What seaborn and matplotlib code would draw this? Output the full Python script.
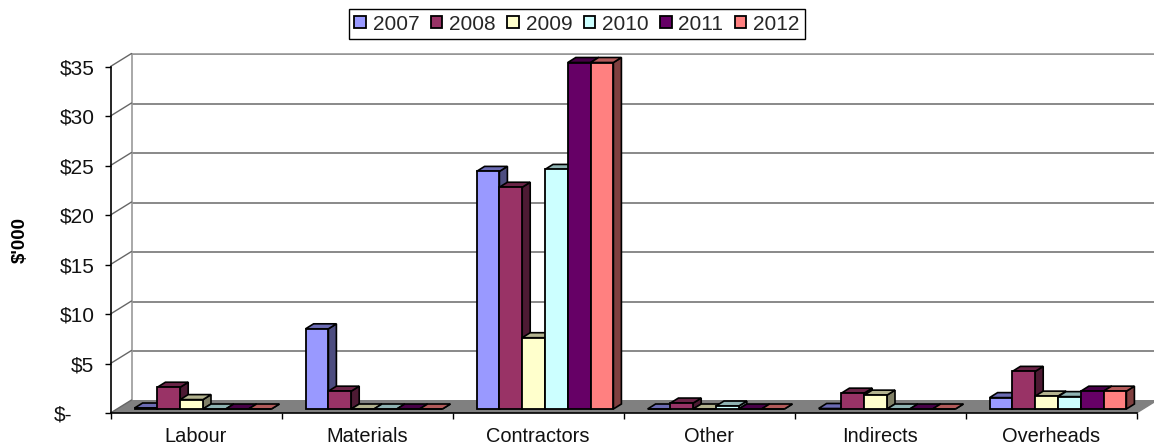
import matplotlib
matplotlib.use("Agg")
import matplotlib.pyplot as plt
from matplotlib.colors import to_rgb
from matplotlib.patches import Polygon
from matplotlib.ticker import FixedLocator, NullFormatter
from matplotlib.transforms import ScaledTranslation
import pandas as pd
import seaborn as sns

categories = ["Labour", "Materials", "Contractors", "Other", "Indirects", "Overheads"]
years = ["2007", "2008", "2009", "2010", "2011", "2012"]
spend_2007 = [0.1, 8.1, 24.0, 0.0, 0.05, 1.15]
spend_2008 = [2.2, 1.8, 22.4, 0.6, 1.6, 3.8]
spend_2009 = [0.95, 0.0, 7.2, 0.0, 1.4, 1.3]
spend_2010 = [0.0, 0.0, 24.2, 0.3, 0.0, 1.25]
spend_2011 = [0.0, 0.0, 35.0, 0.0, 0.0, 1.8]
spend_2012 = [0.0, 0.0, 35.0, 0.0, 0.0, 1.8]
year_colors = ["#9999FF", "#993366", "#FFFFCC", "#CCFFFF", "#660066", "#FF8080"]
value_ticks = [0, 5, 10, 15, 20, 25, 30, 35]
value_labels = ["$-", "$5", "$10", "$15", "$20", "$25", "$30", "$35"]

spend = [spend_2007, spend_2008, spend_2009, spend_2010, spend_2011, spend_2012]
frame = pd.DataFrame(
    [
        {"category": cat, "year": year, "spend": values[i]}
        for year, values in zip(years, spend)
        for i, cat in enumerate(categories)
    ]
)

sns.set_style("white")
plt.rcParams["font.family"] = ["Liberation Sans", "DejaVu Sans"]

W, H = 1154, 444
AX_W, AX_H = 1026.0, 346.5
fig = plt.figure(figsize=(W / 100, H / 100), dpi=100, facecolor="white")


def layer(left, base):
    """Axes of the shared plot size whose origin sits at a pixel position."""
    ax = fig.add_axes([left / W, (H - base) / H, AX_W / W, AX_H / H])
    ax.set_xlim(-0.5, 5.5)
    ax.set_ylim(0, 35)
    ax.patch.set_alpha(0)
    return ax


# Three layers give the oblique look: back wall, front axis, bars in between.
ax_back = layer(131.5, 400.5)
ax_front = layer(110.5, 413.0)
ax_bars = layer(117.5, 409.0)
ax_back.set_zorder(0)
ax_front.set_zorder(1)
ax_bars.set_zorder(2)

# Back wall
ax_back.set_yticks(value_ticks)
ax_back.set_xticks([])
ax_back.set_yticklabels([])
ax_back.grid(axis="y", color="#808080", linewidth=1.3)
ax_back.tick_params(left=False)
for side in ("right", "bottom"):
    ax_back.spines[side].set_visible(False)
for side in ("left", "top"):
    ax_back.spines[side].set_color("#999999")
    ax_back.spines[side].set_linewidth(1.2)

# Front axis
unit_x = 6 / AX_W
unit_y = 35 / AX_H
wall_dx, wall_dy = 21 * unit_x, 13 * unit_y
ax_front.set_yticks(value_ticks)
ax_front.set_yticklabels(value_labels, fontsize=15, color="#111111")
ax_front.set_xticks(range(len(categories)))
ax_front.set_xticklabels(categories, fontsize=14.4, color="#111111")
ax_front.xaxis.set_minor_locator(FixedLocator([i - 0.5 for i in range(len(categories) + 1)]))
ax_front.xaxis.set_minor_formatter(NullFormatter())
ax_front.tick_params(axis="x", which="major", length=0, pad=10)
ax_front.tick_params(axis="x", which="minor", length=4.5, width=1, color="black", bottom=True)
ax_front.tick_params(axis="y", length=4.5, width=1, color="black", pad=7, left=True)
for side in ("right", "top"):
    ax_front.spines[side].set_visible(False)
for side in ("left", "bottom"):
    ax_front.spines[side].set_color("black")
    ax_front.spines[side].set_linewidth(1.2)
ax_front.set_ylabel("$'000", fontsize=13.5, fontweight="bold", color="black", labelpad=18)

# The empty-value label sits further left than the others.
zero_label = ax_front.get_yticklabels()[0]
zero_label.set_transform(
    zero_label.get_transform() + ScaledTranslation(-22 / 100, 0, fig.dpi_scale_trans)
)

# Wall floor and the diagonal joins between axis and wall
floor = Polygon(
    [(-0.5, 0), (5.5, 0), (5.5 + wall_dx, wall_dy), (-0.5 + wall_dx, wall_dy)],
    facecolor="#808080",
    edgecolor="none",
    clip_on=False,
    zorder=1,
)
ax_front.add_patch(floor)
ax_front.plot(
    [5.5, 5.5 + wall_dx], [0, wall_dy], color="#808080", lw=1, clip_on=False, zorder=1
)
for value in value_ticks:
    ax_front.plot(
        [-0.5, -0.5 + wall_dx],
        [value, value + wall_dy],
        color="#666666",
        lw=1,
        clip_on=False,
        zorder=1,
    )

# Bars
sns.barplot(
    data=frame,
    x="category",
    y="spend",
    hue="year",
    order=categories,
    hue_order=years,
    palette=year_colors,
    saturation=1,
    width=136.8 / 171,
    gap=0,
    edgecolor="black",
    linewidth=1.3,
    errorbar=None,
    ax=ax_bars,
)
ax_bars.set_xlim(-0.5, 5.5)
ax_bars.set_ylim(0, 35)
ax_bars.set_xticks([])
ax_bars.set_yticks([])
ax_bars.set_xlabel("")
ax_bars.set_ylabel("")
for spine in ax_bars.spines.values():
    spine.set_visible(False)

# Top and side faces, shaded from each bar's own colour
depth_x, depth_y = 8 * unit_x, 5 * unit_y
for order, (container, color) in enumerate(zip(ax_bars.containers, year_colors)):
    base_rgb = to_rgb(color)
    top_rgb = tuple(c * 0.7 for c in base_rgb)
    side_rgb = tuple(c * 0.5 for c in base_rgb)
    for rect in container:
        x0, w, h = rect.get_x(), rect.get_width(), rect.get_height()
        x1 = x0 + w
        rect.set_zorder(3 * order + 5)
        rect.set_clip_on(False)
        side = Polygon(
            [(x1, 0), (x1 + depth_x, depth_y), (x1 + depth_x, h + depth_y), (x1, h)],
            facecolor=side_rgb,
            edgecolor="black",
            linewidth=1.2,
            clip_on=False,
            zorder=3 * order + 3,
        )
        top = Polygon(
            [(x0, h), (x0 + depth_x, h + depth_y), (x1 + depth_x, h + depth_y), (x1, h)],
            facecolor=top_rgb,
            edgecolor="black",
            linewidth=1.2,
            clip_on=False,
            zorder=3 * order + 4,
        )
        ax_bars.add_patch(side)
        ax_bars.add_patch(top)

sns.move_legend(
    ax_bars,
    "center",
    bbox_to_anchor=(577 / W, (H - 24) / H),
    bbox_transform=fig.transFigure,
    ncol=6,
    title=None,
    frameon=True,
    fancybox=False,
    framealpha=1,
    edgecolor="black",
    fontsize=15,
    handlelength=0.55,
    handleheight=0.55,
    handletextpad=0.33,
    columnspacing=0.55,
    borderpad=0.28,
    borderaxespad=0,
)
legend = ax_bars.get_legend()
legend.get_frame().set_linewidth(1.0)

fig.savefig("out.png", dpi=100, facecolor="white")
